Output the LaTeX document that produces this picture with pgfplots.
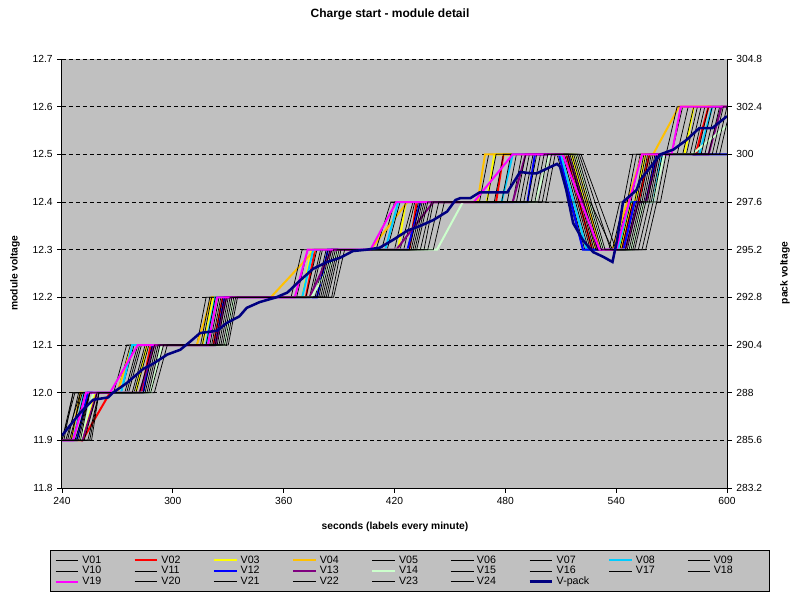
\documentclass[border=0pt]{standalone}
\usepackage{fontspec}
\setmainfont{Liberation Sans}
\usepackage{pgfplots}
\pgfplotsset{compat=1.18}
\definecolor{bg}{HTML}{C0C0C0}
\definecolor{vred}{HTML}{FF0000}
\definecolor{vyel}{HTML}{FFFF00}
\definecolor{vorg}{HTML}{FFC000}
\definecolor{vcyan}{HTML}{00CCFF}
\definecolor{vblue}{HTML}{0000FF}
\definecolor{vpur}{HTML}{800080}
\definecolor{vlgr}{HTML}{CCFFCC}
\definecolor{vmag}{HTML}{FF00FF}
\definecolor{vnavy}{HTML}{000080}
\pgfplotsset{
  blk/.style={black, line width=0.55pt, mark=none},
  col/.style={#1, line width=1.5pt, mark=none},
  common/.style={
    at={(0pt,0pt)}, anchor=south west,
    scale only axis, width=498.75pt, height=321.75pt,
    xmin=240, xmax=600,
    axis line style={draw=none},
    tick style={black, line width=0.6pt},
    tick align=outside,
    major tick length=3.5pt,
    ticklabel style={font=\fontsize{7.7}{9}\selectfont},
    /pgf/number format/assume math mode=true,
  }
}
\begin{document}
\begin{tikzpicture}
\useasboundingbox (-46.5pt,-84pt) rectangle (553.5pt,366pt);
\begin{axis}[common,
  ymin=11.8, ymax=12.7,
  ytick={11.8,11.9,12.0,12.1,12.2,12.3,12.4,12.5,12.6,12.7},
  yticklabel style={/pgf/number format/.cd, fixed, fixed zerofill, precision=1},
  xtick={240,300,360,420,480,540,600},
  ytick pos=left, xtick pos=bottom,
  axis background/.style={fill=bg},
  ymajorgrids,
  major grid style={black, line width=0.6pt, dash pattern=on 3pt off 2.25pt},
  legend columns=9,
  legend image code/.code={\draw[#1] (0pt,0pt) -- (17pt,0pt);},
  legend style={
    at={(-0.018,-0.1445)}, anchor=north west,
    fill=bg, draw=black, line width=0.75pt,
    inner xsep=3pt, inner ysep=3.3pt,
    font=\fontsize{8}{9}\selectfont,
    nodes={inner sep=0.3pt, text height=5.8pt, text depth=1.6pt, text width=38.3pt, align=left},
    /tikz/every odd column/.append style={column sep=2pt},
    cells={anchor=west},
  },
]
% V01
\addplot[blk] coordinates {(240,11.9)(247,12.0)(270,12.0)(277,12.1)(313,12.1)(318,12.2)(370,12.2)(376,12.3)(413,12.3)(420,12.4)(466,12.4)(471,12.5)(511,12.5)(525,12.3)(540,12.3)(546,12.4)(548,12.4)(553,12.5)(570,12.5)(576,12.6)(600,12.6)};
\addlegendentry{V01}
% V02
\addplot[col=vred] coordinates {(240,11.9)(251,11.9)(266,12.0)(283,12.0)(288,12.1)(322,12.1)(327,12.2)(372,12.2)(377,12.3)(428,12.3)(432,12.4)(475,12.4)(479,12.5)(513,12.5)(527,12.3)(543,12.3)(549,12.4)(552,12.4)(558,12.5)(583,12.5)(590,12.6)(600,12.6)};
\addlegendentry{V02}
% V03
\addplot[col=vyel] coordinates {(240,11.9)(250,11.9)(258,12.0)(280,12.0)(286,12.1)(316,12.1)(322,12.2)(370,12.2)(375,12.3)(422,12.3)(426,12.4)(470,12.4)(474,12.5)(516,12.5)(529,12.3)(542,12.3)(548,12.4)(550,12.4)(556,12.5)(577,12.5)(582,12.6)(600,12.6)};
\addlegendentry{V03}
% V04
\addplot[col=vorg] coordinates {(240,11.9)(245,11.9)(250,12.0)(270,12.0)(278,12.1)(313,12.1)(321,12.2)(353,12.2)(377,12.3)(407,12.3)(427,12.4)(465,12.4)(469,12.5)(518,12.5)(531,12.3)(538,12.3)(554,12.5)(560,12.5)(574,12.6)(600,12.6)};
\addlegendentry{V04}
% V05
\addplot[blk] coordinates {(240,11.9)(246,12.0)(268,12.0)(275,12.1)(316,12.1)(321,12.2)(364,12.2)(370,12.3)(420,12.3)(426,12.4)(474,12.4)(479,12.5)(509,12.5)(523,12.3)(536,12.3)(542,12.4)(544,12.4)(549,12.5)(567,12.5)(573,12.6)(600,12.6)};
\addlegendentry{V05}
% V06
\addplot[blk] coordinates {(240,11.9)(241,11.9)(246,12.0)(274,12.0)(281,12.1)(315,12.1)(320,12.2)(367,12.2)(373,12.3)(410,12.3)(418,12.4)(470,12.4)(475,12.5)(508,12.5)(522,12.3)(541,12.3)(547,12.4)(550,12.4)(555,12.5)(573,12.5)(579,12.6)(600,12.6)};
\addlegendentry{V06}
% V07
\addplot[blk] coordinates {(240,11.9)(242,11.9)(250,12.0)(272,12.0)(279,12.1)(319,12.1)(324,12.2)(372,12.2)(378,12.3)(416,12.3)(423,12.4)(481,12.4)(486,12.5)(510,12.5)(524,12.3)(538,12.3)(544,12.4)(546,12.4)(551,12.5)(578,12.5)(584,12.6)(600,12.6)};
\addlegendentry{V07}
% V08
\addplot[col=vcyan] coordinates {(240,11.9)(246,11.9)(252,12.0)(272,12.0)(278,12.1)(318,12.1)(323,12.2)(370,12.2)(376,12.3)(415,12.3)(422,12.4)(478,12.4)(484,12.5)(510,12.5)(524,12.3)(541,12.3)(547,12.4)(560,12.4)(565,12.5)(585,12.5)(592,12.6)(600,12.6)};
\addlegendentry{V08}
% V09
\addplot[blk] coordinates {(240,11.9)(243,11.9)(249,12.0)(276,12.0)(283,12.1)(318,12.1)(323,12.2)(375,12.2)(381,12.3)(423,12.3)(430,12.4)(478,12.4)(483,12.5)(513,12.5)(527,12.3)(542,12.3)(548,12.4)(551,12.4)(556,12.5)(576,12.5)(582,12.6)(600,12.6)};
\addlegendentry{V09}
% V10
\addplot[blk] coordinates {(240,11.9)(244,11.9)(251,12.0)(275,12.0)(282,12.1)(321,12.1)(326,12.2)(374,12.2)(380,12.3)(427,12.3)(433,12.4)(484,12.4)(489,12.5)(512,12.5)(526,12.3)(544,12.3)(550,12.4)(553,12.4)(558,12.5)(580,12.5)(586,12.6)(600,12.6)};
\addlegendentry{V10}
% V11
\addplot[blk] coordinates {(240,11.9)(245,11.9)(250,12.0)(279,12.0)(286,12.1)(320,12.1)(325,12.2)(377,12.2)(383,12.3)(425,12.3)(431,12.4)(488,12.4)(493,12.5)(514,12.5)(528,12.3)(543,12.3)(549,12.4)(552,12.4)(557,12.5)(584,12.5)(590,12.6)(600,12.6)};
\addlegendentry{V11}
% V12
\addplot[col=vblue] coordinates {(240,11.9)(248,11.9)(254,12.0)(284,12.0)(289,12.1)(323,12.1)(328,12.2)(378,12.2)(384,12.3)(427,12.3)(434,12.4)(492,12.4)(496,12.5)(509,12.5)(522,12.3)(544,12.3)(550,12.4)(556,12.4)(562,12.5)(600,12.5)};
\addlegendentry{V12}
% V13
\addplot[col=vpur] coordinates {(240,11.9)(251,11.9)(259,12.0)(282,12.0)(290,12.1)(323,12.1)(329,12.2)(374,12.2)(386,12.3)(421,12.3)(441,12.4)(484,12.4)(491,12.5)(514,12.5)(530,12.3)(545,12.3)(552,12.4)(556,12.4)(563,12.5)(590,12.5)(597,12.6)(600,12.6)};
\addlegendentry{V13}
% V14
\addplot[col=vlgr] coordinates {(240,11.9)(250,11.9)(257,12.0)(288,12.0)(294,12.1)(328,12.1)(333,12.2)(375,12.2)(390,12.3)(443,12.3)(457,12.4)(496,12.4)(504,12.5)(518,12.5)(533,12.3)(548,12.3)(555,12.4)(560,12.4)(566,12.5)(581,12.5)(600,12.56)};
\addlegendentry{V14}
% V15
\addplot[blk] coordinates {(240,11.9)(246,11.9)(252,12.0)(278,12.0)(285,12.1)(323,12.1)(328,12.2)(379,12.2)(385,12.3)(428,12.3)(434,12.4)(486,12.4)(491,12.5)(515,12.5)(530,12.3)(545,12.3)(551,12.4)(554,12.4)(559,12.5)(582,12.5)(588,12.6)(600,12.6)};
\addlegendentry{V15}
% V16
\addplot[blk] coordinates {(240,11.9)(247,11.9)(255,12.0)(282,12.0)(289,12.1)(322,12.1)(327,12.2)(378,12.2)(384,12.3)(430,12.3)(436,12.4)(490,12.4)(495,12.5)(514,12.5)(529,12.3)(547,12.3)(553,12.4)(556,12.4)(561,12.5)(586,12.5)(592,12.6)(600,12.6)};
\addlegendentry{V16}
% V17
\addplot[blk] coordinates {(240,11.9)(248,11.9)(255,12.0)(280,12.0)(287,12.1)(325,12.1)(330,12.2)(380,12.2)(386,12.3)(429,12.3)(435,12.4)(494,12.4)(499,12.5)(516,12.5)(531,12.3)(546,12.3)(552,12.4)(555,12.4)(560,12.5)(590,12.5)(596,12.6)(600,12.6)};
\addlegendentry{V17}
% V18
\addplot[blk] coordinates {(240,11.9)(249,11.9)(255,12.0)(285,12.0)(291,12.1)(324,12.1)(329,12.2)(382,12.2)(388,12.3)(431,12.3)(437,12.4)(492,12.4)(497,12.5)(518,12.5)(533,12.3)(548,12.3)(554,12.4)(557,12.4)(562,12.5)(588,12.5)(594,12.6)(600,12.6)};
\addlegendentry{V18}
% V19
\addplot[col=vmag] coordinates {(240,11.9)(246,11.9)(253,12.0)(266,12.0)(281,12.1)(319,12.1)(324,12.2)(366,12.2)(373,12.3)(407,12.3)(421,12.4)(463,12.4)(484,12.5)(511,12.5)(531,12.3)(540,12.3)(554,12.5)(570,12.5)(575,12.6)(600,12.6)};
\addlegendentry{V19}
% V20
\addplot[blk] coordinates {(240,11.9)(250,11.9)(255,12.0)(284,12.0)(290,12.1)(327,12.1)(332,12.2)(381,12.2)(387,12.3)(434,12.3)(440,12.4)(496,12.4)(501,12.5)(517,12.5)(532,12.3)(550,12.3)(556,12.4)(559,12.4)(564,12.5)(592,12.5)(598,12.6)(600,12.6)};
\addlegendentry{V20}
% V21
\addplot[blk] coordinates {(240,11.9)(252,11.9)(259,12.0)(287,12.0)(293,12.1)(326,12.1)(331,12.2)(384,12.2)(390,12.3)(432,12.3)(438,12.4)(500,12.4)(505,12.5)(519,12.5)(534,12.3)(549,12.3)(555,12.4)(558,12.4)(563,12.5)(596,12.5)(600,12.567)};
\addlegendentry{V21}
% V22
\addplot[blk] coordinates {(240,11.9)(254,11.9)(260,12.0)(286,12.0)(292,12.1)(329,12.1)(334,12.2)(383,12.2)(389,12.3)(436,12.3)(441,12.4)(498,12.4)(503,12.5)(520,12.5)(537,12.3)(552,12.3)(558,12.4)(560,12.4)(565,12.5)(594,12.5)(600,12.6)};
\addlegendentry{V22}
% V23
\addplot[blk] coordinates {(240,11.9)(255,11.9)(260,12.0)(290,12.0)(297,12.1)(328,12.1)(333,12.2)(387,12.2)(393,12.3)(438,12.3)(444,12.4)(526,12.4)(538,12.3)(556,12.3)(562,12.4)(564,12.4)(569,12.5)(600,12.5)};
\addlegendentry{V23}
% V24
\addplot[blk] coordinates {(240,11.9)(256,11.9)(260,12.0)(288,12.0)(295,12.1)(330,12.1)(335,12.2)(386,12.2)(391,12.3)(441,12.3)(447,12.4)(502,12.4)(507,12.5)(521,12.5)(540,12.3)(554,12.3)(560,12.4)(562,12.4)(567,12.5)(600,12.5)};
\addlegendentry{V24}
\addlegendimage{vnavy, line width=1.9pt}
\addlegendentry{V-pack}
\end{axis}
\begin{axis}[common,
  ymin=283.2, ymax=304.8,
  ytick={283.2,285.6,288,290.4,292.8,295.2,297.6,300,302.4,304.8},
  ytick pos=right, xtick=\empty,
]
\addplot[vnavy, line width=1.9pt, mark=none] coordinates {
(240,285.84)(249.7,286.97)(256.8,287.64)(265,287.76)(267.6,288.0)(275,288.48)(284,289.2)(289,289.44)(297,289.92)(304,290.16)(309,290.54)(314.7,291.0)(318.5,291.05)(324,291.12)(329,291.5)(336,291.84)(340,292.27)(347,292.56)(356,292.8)(362,293.04)(369,293.66)(376,294.24)(383.5,294.58)(390.5,294.79)(397.5,295.13)(405,295.2)(412,295.3)(419,295.68)(427,296.16)(434,296.4)(441,296.69)(448.5,297.12)(453,297.7)(455.5,297.79)(461,297.79)(466,298.08)(471.7,298.08)(481,298.08)(488,299.11)(494.5,299.04)(497,299.04)(508,299.52)(509.6,299.38)(513,298.2)(516.7,296.54)(522,295.68)(527.5,295.08)(533,294.84)(538,294.58)(540.5,295.68)(543.7,297.6)(551,298.2)(553,298.7)(564,300.0)(571,300.24)(578,300.72)(585,301.32)(592,301.32)(600,301.92)};
\end{axis}
\draw[black, line width=0.75pt] (0pt,321.75pt) -- (0pt,0pt) -- (498.75pt,0pt) -- (498.75pt,321.75pt);
\node[font=\bfseries\fontsize{9}{11}\selectfont] at (246pt,355pt) {Charge start - module detail};
\node[font=\bfseries\fontsize{7.7}{9}\selectfont] at (249.75pt,-29.25pt) {seconds (labels every minute)};
\node[font=\bfseries\fontsize{7.7}{9}\selectfont, rotate=90] at (-35.25pt,161.25pt) {module voltage};
\node[font=\bfseries\fontsize{7.7}{9}\selectfont, rotate=90] at (542.25pt,161.25pt) {pack voltage};
\end{tikzpicture}
\end{document}
